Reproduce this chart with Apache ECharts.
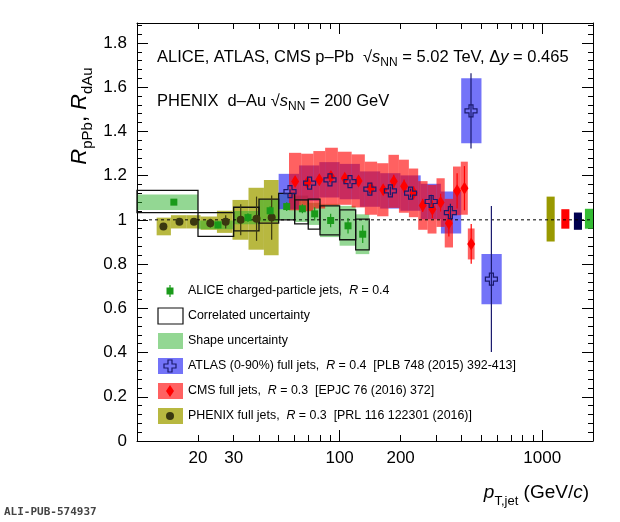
<!DOCTYPE html>
<html><head><meta charset="utf-8">
<script src="https://cdn.jsdelivr.net/npm/echarts@6/dist/echarts.min.js"></script>
<style>html,body{margin:0;padding:0;background:#fff}#c{width:620px;height:522px}</style>
</head><body><div id="c"></div>
<script>
// ALICE
const aliceX=[15.2,25.1,35.3,45.4,54.8,65.5,75.3,90.3,110,130];
const aliceY=[1.080,0.977,1.010,1.041,1.060,1.050,1.027,0.997,0.973,0.935];
const aliceStat=[0.01,0.015,0.02,0.02,0.02,0.02,0.03,0.03,0.035,0.04];
const aliceBinLo=[10,20,30,40,50,60,70,80,100,120];
const aliceBinHi=[20,30,40,50,60,70,80,100,120,140];
const aliceCorrLo=[1.033,0.925,0.950,0.985,1.000,0.982,0.958,0.932,0.910,0.864];
const aliceCorrHi=[1.133,1.033,1.057,1.094,1.120,1.090,1.094,1.063,1.045,1.003];
const aliceShape=[0.035,0.02,0.03,0.05,0.06,0.06,0.05,0.075,0.09,0.09];
// PHENIX
const phenixX=[13.5,16.2,19.1,23,27.4,32.5,38.9,46.2];
const phenixBinLo=[12.5,14.7,17.6,20.6,24.8,29.6,35.5,42.3];
const phenixBinHi=[14.7,17.6,20.6,24.8,29.6,35.5,42.3,50];
const phenixY=[0.970,0.991,0.991,0.985,0.991,1.000,1.005,1.010];
const phenixSys=[0.04,0.03,0.03,0.03,0.05,0.09,0.14,0.17];
const phenixStat=[0.01,0.01,0.01,0.02,0.03,0.07,0.10,0.10];
// ATLAS
const atlasEdges=[50,63.1,79.4,100,125.9,158.5,199.5,251.2,316.2,398.1,501.2,631];
const atlasX=[56.9,71.1,89.6,112.5,141,178,224,283,352,445,561];
const atlasY=[1.128,1.166,1.181,1.173,1.139,1.131,1.121,1.083,1.033,1.493,0.732];
const atlasSys=[0.08,0.08,0.08,0.08,0.08,0.08,0.08,0.08,0.095,0.147,0.114];
const atlasStat=[0.01,0.01,0.01,0.01,0.02,0.02,0.02,0.03,0.04,0.17,0.33];
// CMS
const cmsX=[60.3,69.3,79.4,90.6,106,124,143,164,185,208,232,257,287,315,346,380,413,446];
const cmsY=[1.173,1.169,1.181,1.196,1.188,1.176,1.143,1.136,1.174,1.152,1.122,1.065,1.048,1.078,0.985,1.131,1.143,0.891];
const cmsSys=[0.13,0.13,0.13,0.13,0.12,0.12,0.12,0.12,0.12,0.12,0.11,0.11,0.11,0.11,0.11,0.11,0.12,0.07];
const cmsStat=[0.02,0.02,0.02,0.02,0.02,0.02,0.02,0.02,0.03,0.03,0.03,0.03,0.04,0.04,0.06,0.08,0.10,0.09];
// global normalisation uncertainties
const globalX=[1100,1300,1500,1700];
const globalLo=[0.902,0.960,0.955,0.960];
const globalHi=[1.105,1.048,1.033,1.050];
const globalColors=['#999900','#ff0000','#000050','#33bb33'];
// axis ticks
const xTickLabels=[20,30,100,200,1000];
const xMajorTicks=[10,100,1000];
const xMinorTicks=[20,30,40,50,60,70,80,90,200,300,400,500,600,700,800,900];

const XMIN=10,XMAX=1780,YMIN=0,YMAX=1.89;
const C_GREEN='rgba(40,175,40,0.5)', C_BLUE='rgba(40,40,245,0.65)', C_RED='rgba(255,0,0,0.62)', C_OLIVE='rgba(160,160,0,0.75)';
const MK_GREEN='#1a9a1a', MK_NAVY='#1a1a6e', MK_PHX='#3a3810';

function edges(xs){const e=[];for(let i=0;i<=xs.length;i++){if(i==0)e.push(xs[0]*xs[0]/Math.sqrt(xs[0]*xs[1]));else if(i==xs.length)e.push(xs[i-1]*xs[i-1]/Math.sqrt(xs[i-1]*xs[i-2]));else e.push(Math.sqrt(xs[i-1]*xs[i]));}return e;}
const cmsE=edges(cmsX);

function boxSeries(data,fill,stroke){
  return {type:'custom',data:data,renderItem:(p,api)=>{
    const a=api.coord([api.value(0),api.value(3)]),b=api.coord([api.value(1),api.value(2)]);
    return {type:'rect',shape:{x:a[0],y:a[1],width:b[0]-a[0],height:b[1]-a[1]},
      style:stroke?{fill:'none',stroke:stroke,lineWidth:1.3}:{fill:fill}};
  }};
}
function errSeries(data,color){
  return {type:'custom',data:data,renderItem:(p,api)=>{
    const a=api.coord([api.value(0),api.value(1)]),b=api.coord([api.value(0),api.value(2)]);
    return {type:'line',shape:{x1:a[0],y1:a[1],x2:b[0],y2:b[1]},style:{stroke:color,lineWidth:1.2}};
  }};
}
const series=[];
series.push(boxSeries(phenixX.map((x,i)=>[phenixBinLo[i],phenixBinHi[i],phenixY[i]-phenixSys[i],phenixY[i]+phenixSys[i]]),C_OLIVE));
series.push(boxSeries(aliceX.map((x,i)=>[aliceBinLo[i],aliceBinHi[i],aliceY[i]-aliceShape[i],aliceY[i]+aliceShape[i]]),C_GREEN));
series.push(boxSeries(atlasX.map((x,i)=>[atlasEdges[i],atlasEdges[i+1],atlasY[i]-atlasSys[i],atlasY[i]+atlasSys[i]]),C_BLUE));
series.push(boxSeries(cmsX.map((x,i)=>[cmsE[i],cmsE[i+1],cmsY[i]-cmsSys[i],cmsY[i]+cmsSys[i]]),C_RED));
series.push(boxSeries(aliceX.map((x,i)=>[aliceBinLo[i],aliceBinHi[i],aliceCorrLo[i],aliceCorrHi[i]]),null,'#111'));
series.push({type:'custom',data:globalX.map((x,i)=>[x/1.047,x*1.047,globalLo[i],globalHi[i],i]),renderItem:(p,api)=>{
  const a=api.coord([api.value(0),api.value(3)]),b=api.coord([api.value(1),api.value(2)]);
  return {type:'rect',shape:{x:a[0],y:a[1],width:b[0]-a[0],height:b[1]-a[1]},style:{fill:globalColors[api.value(4)]}};
}});
series.push({type:'custom',data:[[XMIN,XMAX,1]],renderItem:(p,api)=>{
  const a=api.coord([api.value(0),api.value(2)]),b=api.coord([api.value(1),api.value(2)]);
  return {type:'line',shape:{x1:a[0],y1:a[1],x2:b[0],y2:b[1]},style:{stroke:'#000',lineWidth:1,lineDash:[3,3]}};
}});
series.push(errSeries(phenixX.map((x,i)=>[x,phenixY[i]-phenixStat[i],phenixY[i]+phenixStat[i]]),MK_PHX));
series.push(errSeries(aliceX.map((x,i)=>[x,aliceY[i]-aliceStat[i],aliceY[i]+aliceStat[i]]),MK_GREEN));
series.push(errSeries(atlasX.map((x,i)=>[x,atlasY[i]-atlasStat[i],atlasY[i]+atlasStat[i]]),MK_NAVY));
series.push(errSeries(cmsX.map((x,i)=>[x,cmsY[i]-cmsStat[i],cmsY[i]+cmsStat[i]]),'#ff0000'));
const CROSS='path://M-1,-3H1V-1H3V1H1V3H-1V1H-3V-1H-1Z';
series.push({type:'scatter',data:phenixX.map((x,i)=>[x,phenixY[i]]),symbol:'circle',symbolSize:8,itemStyle:{color:MK_PHX,opacity:1}});
series.push({type:'scatter',data:aliceX.map((x,i)=>[x,aliceY[i]]),symbol:'rect',symbolSize:7,itemStyle:{color:MK_GREEN,opacity:1}});
series.push({type:'scatter',data:cmsX.map((x,i)=>[x,cmsY[i]]),symbol:'diamond',symbolSize:[8,13],itemStyle:{color:'#ff0000',opacity:1}});
series.push({type:'scatter',data:atlasX.map((x,i)=>[x,atlasY[i]]),symbol:CROSS,symbolSize:12,itemStyle:{color:'rgba(0,0,0,0)',borderColor:MK_NAVY,borderWidth:1.2,opacity:1}});

function crossPts(cx,cy,s){const p=[[-1,-3],[1,-3],[1,-1],[3,-1],[3,1],[1,1],[1,3],[-1,3],[-1,1],[-3,1],[-3,-1],[-1,-1]];return p.map(q=>[cx+q[0]*s,cy+q[1]*s]);}
const legendRows=[
 {y:291,kind:'alice',text:'{n|ALICE charged-particle jets,  }{i|R}{n| = 0.4}'},
 {y:316,kind:'corr',text:'{n|Correlated uncertainty}'},
 {y:341,kind:'shape',text:'{n|Shape uncertainty}'},
 {y:366,kind:'atlas',text:'{n|ATLAS (0-90%) full jets,  }{i|R}{n| = 0.4  [PLB 748 (2015) 392-413]}'},
 {y:391,kind:'cms',text:'{n|CMS full jets,  }{i|R}{n| = 0.3  [EPJC 76 (2016) 372]}'},
 {y:416,kind:'phenix',text:'{n|PHENIX full jets,  }{i|R}{n| = 0.3  [PRL 116 122301 (2016)]}'}];
const rich={n:{fontSize:12.4,fontFamily:'Liberation Sans',fill:'#000'},i:{fontSize:12.4,fontFamily:'Liberation Sans',fontStyle:'italic',fill:'#000'}};
const graphic=[];
legendRows.forEach(r=>{
  const bx=158,bw=25,bh=16,cx=170;
  if(r.kind==='corr')graphic.push({type:'rect',shape:{x:bx,y:r.y-8,width:bw,height:bh},style:{fill:'none',stroke:'#111',lineWidth:1.2}});
  if(r.kind==='shape')graphic.push({type:'rect',shape:{x:bx,y:r.y-8,width:bw,height:bh},style:{fill:C_GREEN}});
  if(r.kind==='atlas'){graphic.push({type:'rect',shape:{x:bx,y:r.y-8,width:bw,height:bh},style:{fill:C_BLUE}});
    graphic.push({type:'polygon',shape:{points:crossPts(cx,r.y,2)},style:{fill:'none',stroke:MK_NAVY,lineWidth:1.2}});}
  if(r.kind==='cms'){graphic.push({type:'rect',shape:{x:bx,y:r.y-8,width:bw,height:bh},style:{fill:C_RED}});
    graphic.push({type:'polygon',shape:{points:[[cx,r.y-6],[cx+4,r.y],[cx,r.y+6],[cx-4,r.y]]},style:{fill:'#ff0000'}});}
  if(r.kind==='phenix'){graphic.push({type:'rect',shape:{x:bx,y:r.y-8,width:bw,height:bh},style:{fill:C_OLIVE}});
    graphic.push({type:'circle',shape:{cx:cx,cy:r.y,r:4},style:{fill:MK_PHX}});}
  if(r.kind==='alice'){graphic.push({type:'line',shape:{x1:cx,y1:r.y-6,x2:cx,y2:r.y+6},style:{stroke:MK_GREEN,lineWidth:1.2}});
    graphic.push({type:'rect',shape:{x:cx-3.5,y:r.y-3.5,width:7,height:7},style:{fill:MK_GREEN}});}
  graphic.push({type:'text',x:188,y:r.y,style:{text:r.text,rich:rich,verticalAlign:'middle'}});
});
const big={fontSize:16.5,fontFamily:'Liberation Sans',fill:'#000'};
const sub={fontSize:12,fontFamily:'Liberation Sans',fill:'#000',verticalAlign:'bottom',padding:[0,0,-3,0]};
graphic.push({type:'text',x:157,y:57,style:{text:'{b|ALICE, ATLAS, CMS p–Pb  √}{o|s}{s|NN}{b| = 5.02 TeV, Δ}{i|y}{b| = 0.465}',verticalAlign:'middle',
  rich:{b:big,o:{...big,fontStyle:'italic'},i:{...big,fontStyle:'italic'},s:sub}}});
graphic.push({type:'text',x:157,y:101,style:{text:'{b|PHENIX  d–Au √}{o|s}{s|NN}{b| = 200 GeV}',verticalAlign:'middle',
  rich:{b:big,o:{...big,fontStyle:'italic'},s:sub}}});
graphic.push({type:'text',x:80,y:116,rotation:Math.PI/2,style:{text:'{i|R}{s|pPb}{b|, }{i|R}{s|dAu}',align:'center',verticalAlign:'middle',
  rich:{i:{fontSize:22,fontFamily:'Liberation Sans',fontStyle:'italic'},b:{fontSize:22,fontFamily:'Liberation Sans'},s:{fontSize:15,fontFamily:'Liberation Sans',verticalAlign:'bottom',padding:[0,0,-4,0]}}}});
graphic.push({type:'text',x:589,y:493,style:{text:'{i|p}{s|T,jet}{b| (GeV/}{i|c}{b|)}',align:'right',verticalAlign:'middle',
  rich:{i:{fontSize:19,fontFamily:'Liberation Sans',fontStyle:'italic'},b:{fontSize:19,fontFamily:'Liberation Sans'},s:{fontSize:13,fontFamily:'Liberation Sans',verticalAlign:'bottom',padding:[0,0,-5,0]}}}});
graphic.push({type:'text',x:4,y:512,style:{text:'ALI-PUB-574937',fontSize:11,fontFamily:'DejaVu Sans Mono',fontWeight:'bold',fill:'#444',verticalAlign:'middle'}});

const yCommon={type:'value',min:YMIN,max:YMAX,interval:0.2,axisLine:{show:true,lineStyle:{color:'#000',width:1}},splitLine:{show:false},
  axisTick:{inside:true,length:11,lineStyle:{color:'#000'}},minorTick:{show:true,splitNumber:5,length:5,lineStyle:{color:'#000'}}};
// tick axes: linear axes over log10(pT), sharing the grid
const LMIN=Math.log10(XMIN), LMAX=Math.log10(XMAX);
function tickAxis(pos,vals,len){
  return {type:'value',position:pos,min:LMIN,max:LMAX,axisLine:{show:false,onZero:false},splitLine:{show:false},
    axisLabel:{show:false},axisTick:{show:true,inside:true,length:len,customValues:vals.map(v=>Math.log10(v)),lineStyle:{color:'#000',width:1}}};
}
const chart=echarts.init(document.getElementById('c'),null,{renderer:'canvas'});
chart.setOption({animation:false,
  grid:{left:137,right:27,top:23,bottom:81},
  xAxis:[{type:'log',min:XMIN,max:XMAX,axisLine:{show:true,onZero:false,lineStyle:{color:'#000'}},splitLine:{show:false},minorTick:{show:false},axisTick:{show:false},
          axisLabel:{show:true,customValues:xTickLabels,formatter:v=>String(Math.round(v)),fontSize:17,fontFamily:'Liberation Sans',color:'#000',margin:9}},
         {type:'log',position:'top',min:XMIN,max:XMAX,axisLine:{show:true,onZero:false,lineStyle:{color:'#000'}},splitLine:{show:false},axisTick:{show:false},axisLabel:{show:false}},
         tickAxis('bottom',xMajorTicks,11),tickAxis('bottom',xMinorTicks,6),
         tickAxis('top',xMajorTicks,11),tickAxis('top',xMinorTicks,6)],
  yAxis:[{...yCommon,axisLabel:{fontSize:17,fontFamily:'Liberation Sans',color:'#000',margin:10,showMaxLabel:false}},
         {...yCommon,position:'right',axisLabel:{show:false}}],
  series:series,graphic:graphic});
</script></body></html>
